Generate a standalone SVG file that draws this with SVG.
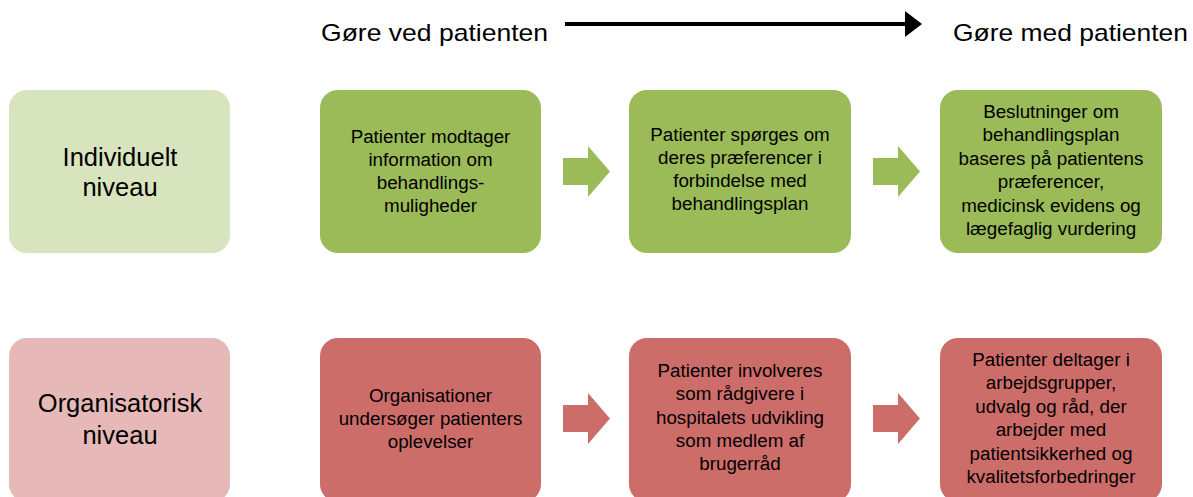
<svg xmlns="http://www.w3.org/2000/svg" width="1193" height="497" viewBox="0 0 1193 497">
<style>
.hdr{font-family:"Liberation Sans",Arial,sans-serif;font-size:24px;fill:#000}
.lvl{font-family:"Liberation Sans",Arial,sans-serif;font-size:25.5px;fill:#000;text-anchor:middle}
.t{font-family:"Liberation Sans",Arial,sans-serif;font-size:18.8px;fill:#000;text-anchor:middle}
.gl{fill:#D7E4BD}.g{fill:#9BBB59}.rl{fill:#E6B9B8}.r{fill:#CD6D6A}
</style>
<rect width="1193" height="497" fill="#fff"/>
<g id="header">
<text class="hdr" x="321" y="41" textLength="227" lengthAdjust="spacingAndGlyphs">Gøre ved patienten</text>
<text class="hdr" x="953" y="41" textLength="235" lengthAdjust="spacingAndGlyphs">Gøre med patienten</text>
</g>
<g id="connectors">
<line x1="565" y1="24" x2="906" y2="24" stroke="#000" stroke-width="4"/>
<polygon points="905,11 922,24 905,37" fill="#000"/>
<polygon class="g" points="563,158 588,158 588,146 610,171.5 588,197 588,185 563,185"/>
<polygon class="g" points="873,158 898,158 898,146 920,171.5 898,197 898,185 873,185"/>
<polygon class="r" points="563,405 588,405 588,393 610,418.5 588,444 588,432 563,432"/>
<polygon class="r" points="873,405 898,405 898,393 920,418.5 898,444 898,432 873,432"/>
</g>
<g id="ind-level">
<rect class="gl" x="9" y="90" width="221" height="163" rx="18"/>
<text class="lvl" x="120" y="166">Individuelt</text>
<text class="lvl" x="120" y="196">niveau</text>
</g>
<g id="ind-1">
<rect class="g" x="320" y="90" width="221" height="163" rx="18"/>
<text class="t" x="430.5" y="143">Patienter modtager</text>
<text class="t" x="430.5" y="166">information om</text>
<text class="t" x="430.5" y="189">behandlings-</text>
<text class="t" x="430.5" y="212">muligheder</text>
</g>
<g id="ind-2">
<rect class="g" x="629" y="90" width="222" height="163" rx="18"/>
<text class="t" x="740" y="141">Patienter spørges om</text>
<text class="t" x="740" y="164">deres præferencer i</text>
<text class="t" x="740" y="187">forbindelse med</text>
<text class="t" x="740" y="210">behandlingsplan</text>
</g>
<g id="ind-3">
<rect class="g" x="940" y="90" width="222" height="163" rx="18"/>
<text class="t" x="1051" y="118">Beslutninger om</text>
<text class="t" x="1051" y="141">behandlingsplan</text>
<text class="t" x="1051" y="165">baseres på patientens</text>
<text class="t" x="1051" y="188">præferencer,</text>
<text class="t" x="1051" y="212">medicinsk evidens og</text>
<text class="t" x="1051" y="235">lægefaglig vurdering</text>
</g>
<g id="org-level">
<rect class="rl" x="9" y="338" width="221" height="164" rx="18"/>
<text class="lvl" x="120" y="412">Organisatorisk</text>
<text class="lvl" x="120" y="444">niveau</text>
</g>
<g id="org-1">
<rect class="r" x="320" y="338" width="221" height="164" rx="18"/>
<text class="t" x="430.5" y="402">Organisationer</text>
<text class="t" x="430.5" y="425">undersøger patienters</text>
<text class="t" x="430.5" y="448">oplevelser</text>
</g>
<g id="org-2">
<rect class="r" x="629" y="338" width="222" height="164" rx="18"/>
<text class="t" x="740" y="377">Patienter involveres</text>
<text class="t" x="740" y="400">som rådgivere i</text>
<text class="t" x="740" y="424">hospitalets udvikling</text>
<text class="t" x="740" y="447">som medlem af</text>
<text class="t" x="740" y="470">brugerråd</text>
</g>
<g id="org-3">
<rect class="r" x="940" y="338" width="222" height="164" rx="18"/>
<text class="t" x="1051" y="366">Patienter deltager i</text>
<text class="t" x="1051" y="389">arbejdsgrupper,</text>
<text class="t" x="1051" y="413">udvalg og råd, der</text>
<text class="t" x="1051" y="436">arbejder med</text>
<text class="t" x="1051" y="460">patientsikkerhed og</text>
<text class="t" x="1051" y="483">kvalitetsforbedringer</text>
</g>
</svg>
